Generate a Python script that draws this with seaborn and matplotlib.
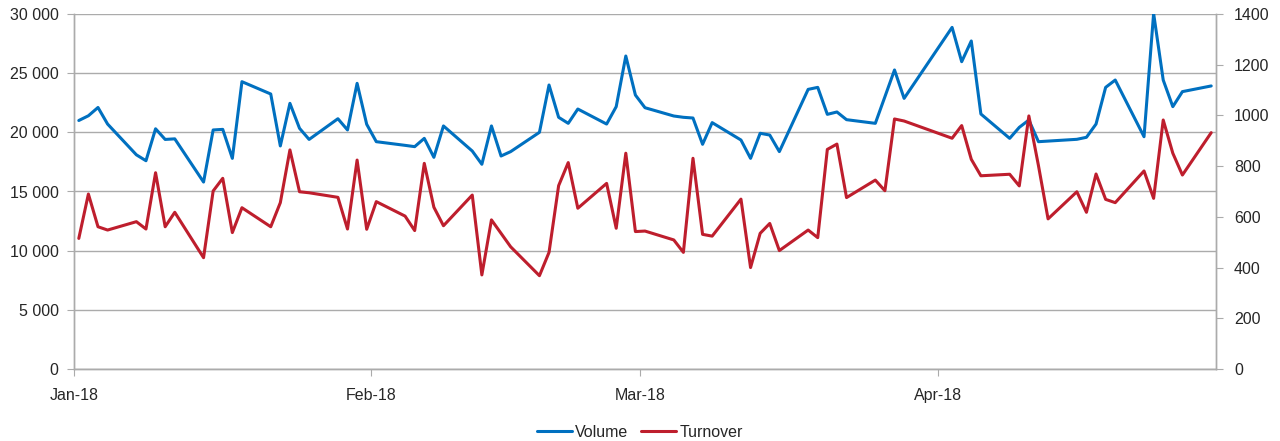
import matplotlib

matplotlib.use("Agg")
import matplotlib.dates as mdates
import matplotlib.pyplot as plt
import pandas as pd
import seaborn as sns
from matplotlib.ticker import FuncFormatter

# Trading days (Good Friday / Easter Monday closed)
jan_days = [2, 3, 4, 5, 8, 9, 10, 11, 12, 15, 16, 17, 18, 19, 22, 23, 24, 25, 26, 29, 30, 31]
feb_days = [1, 2, 5, 6, 7, 8, 9, 12, 13, 14, 15, 16, 19, 20, 21, 22, 23, 26, 27, 28]
mar_days = [1, 2, 5, 6, 7, 8, 9, 12, 13, 14, 15, 16, 19, 20, 21, 22, 23, 26, 27, 28, 29]
apr_days = [3, 4, 5, 6, 9, 10, 11, 12, 13, 16, 17, 18, 19, 20, 23, 24, 25, 26, 27, 30]

volume = [
    21000, 21400, 22100, 20700, 18100, 17600, 20300, 19400, 19450, 15800, 20200,
    20250, 17800, 24280, 23240, 18850, 22450, 20340, 19400, 21150, 20200, 24140,
    20680, 19210, 18900, 18790, 19490, 17890, 20540, 18420, 17300, 20540, 18000,
    18370, 20000, 24000, 21270, 20760, 21970, 20700, 22170, 26450,
    23150, 22080, 21380, 21270, 21210, 18990, 20820, 19350, 17800, 19920, 19770,
    18370, 23630, 23800, 21520, 21720, 21070, 20760, 23010, 25270, 22870,
    28870, 25970, 27720, 21550, 19490, 20420, 21040, 19210, 19260, 19410, 19580,
    20700, 23800, 24420, 19630, 30050, 24420, 22170, 23440, 23920,
]
turnover = [
    515, 690, 561, 548, 581, 552, 774, 561, 618, 439, 702,
    752, 538, 636, 561, 656, 864, 699, 695, 677, 552, 824,
    551, 660, 603, 546, 811, 638, 565, 686, 371, 588, 535,
    482, 368, 460, 723, 814, 634, 732, 555, 851,
    542, 544, 509, 460, 831, 531, 524, 670, 400, 535, 574,
    467, 548, 518, 866, 887, 676, 745, 703, 986, 978,
    910, 960, 827, 762, 768, 722, 998, 802, 592, 699, 618,
    769, 669, 656, 781, 673, 982, 851, 765, 932,
]

month_ticks = ["2018-01-02", "2018-02-02", "2018-03-02", "2018-04-02"]
month_labels = ["Jan-18", "Feb-18", "Mar-18", "Apr-18"]

dates = [pd.Timestamp(2018, m, d)
         for m, days in zip([1, 2, 3, 4], [jan_days, feb_days, mar_days, apr_days])
         for d in days]
df = pd.DataFrame({"date": dates, "Volume": volume, "Turnover": turnover})

BLUE = "#0070C0"
RED = "#BE1E2D"
GRID = "#ABABAB"
TEXT = "#262626"

sns.set_style("white")
plt.rcParams["font.family"] = ["Liberation Sans", "DejaVu Sans"]

fig, ax = plt.subplots(figsize=(12.8, 4.41), dpi=100)
fig.subplots_adjust(left=74 / 1280, right=1216 / 1280, top=1 - 14 / 441, bottom=1 - 369 / 441)
ax2 = ax.twinx()

sns.lineplot(data=df, x="date", y="Volume", ax=ax, color=BLUE, linewidth=2.2,
             label="Volume", legend=False)
sns.lineplot(data=df, x="date", y="Turnover", ax=ax2, color=RED, linewidth=2.2,
             label="Turnover", legend=False)

half_day = pd.Timedelta(hours=12)
ax.set_xlim(df["date"].iloc[0] - half_day, df["date"].iloc[-1] + half_day)
tick_pos = [mdates.date2num(pd.Timestamp(t) - half_day) for t in month_ticks]
ax.set_xticks(tick_pos)
ax.set_xticklabels(month_labels)

ax.set_ylim(0, 30000)
ax.set_yticks(range(0, 30001, 5000))
ax.yaxis.set_major_formatter(FuncFormatter(lambda v, _: f"{int(v):,}".replace(",", " ")))
ax2.set_ylim(0, 1400)
ax2.set_yticks(range(0, 1401, 200))

ax.grid(axis="y", color=GRID, linewidth=1)
ax.grid(axis="x", visible=False)
ax.set_xlabel("")
ax.set_ylabel("")
ax2.set_ylabel("")

for a in (ax, ax2):
    a.spines["top"].set_visible(False)
    for s in ("left", "right", "bottom"):
        a.spines[s].set_color(GRID)
        a.spines[s].set_linewidth(1)

ax.tick_params(axis="y", length=5, color=GRID, labelsize=11.5, labelcolor=TEXT, pad=6, left=True)
ax.tick_params(axis="x", length=5, color=GRID, labelsize=11.5, labelcolor=TEXT, pad=9, bottom=True)
ax2.tick_params(axis="y", length=5, color=GRID, labelsize=11.5, labelcolor=TEXT, pad=8, right=True)

handles = ax.get_lines()[:1] + ax2.get_lines()[:1]
fig.legend(handles, ["Volume", "Turnover"], loc="lower center", bbox_to_anchor=(0.5, -0.03),
           ncol=2, frameon=False, fontsize=11.5, handlelength=2.2, handletextpad=0.2,
           columnspacing=0.8)

fig.savefig("out.png", dpi=100)
plt.close(fig)
